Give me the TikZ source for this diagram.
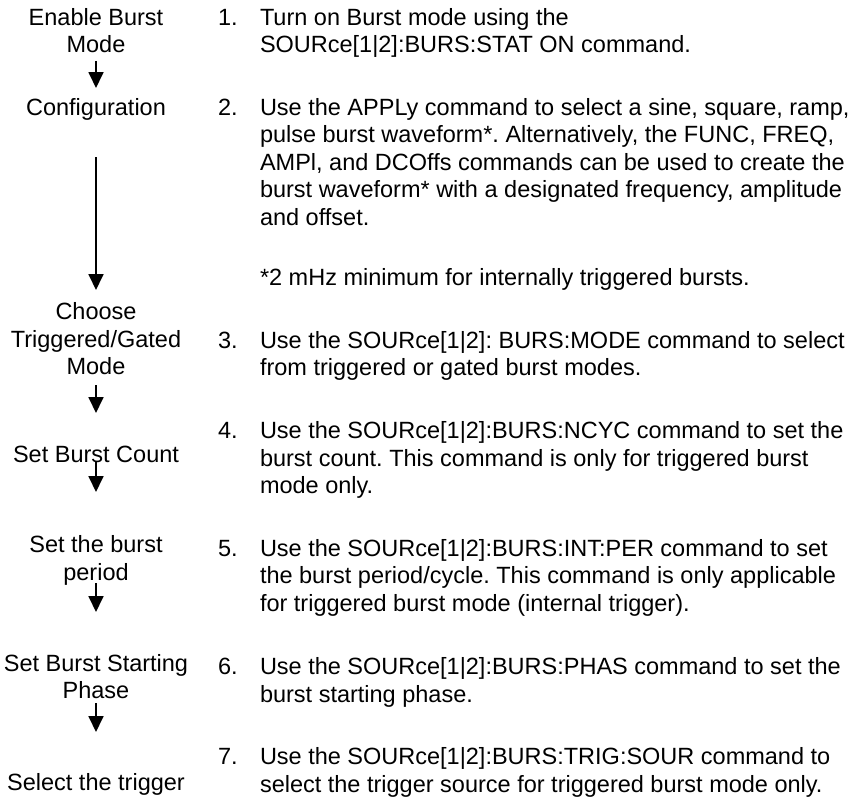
\documentclass[tikz,border=0pt]{standalone}
\usepackage{fontspec}
\setmainfont{Liberation Sans}
\usetikzlibrary{arrows.meta}
\frenchspacing
\newcommand{\stagetext}[1]{\begin{tabular}[t]{@{}c@{}}#1\end{tabular}}
\newcommand{\steptext}[1]{\begin{tabular}[t]{@{}l@{}}#1\end{tabular}}
\begin{document}
\begin{tikzpicture}[x=1pt,y=-1pt,
  every node/.style={inner sep=0pt, outer sep=0pt, font=\fontsize{23.5}{27.5}\selectfont\frenchspacing},
  stage/.style={anchor=base},
  num/.style={anchor=base west},
  body/.style={anchor=base west},
  flow/.style={line width=1.8pt, -{Triangle[length=16pt,width=15pt]}}]
\useasboundingbox (0,0) rectangle (867,798);

% left column: stages
\node[stage] (enable) at (96,25)    {\stagetext{Enable Burst\\Mode}};
\node[stage] (config) at (96,115)   {\stagetext{Configuration}};
\node[stage] (choose) at (96,319.5) {\stagetext{Choose\\Triggered/Gated\\Mode}};
\node[stage] (count)  at (96,462)   {\stagetext{Set Burst Count}};
\node[stage] (period) at (96,552.5) {\stagetext{Set the burst\\period}};
\node[stage] (phase)  at (96,671)   {\stagetext{Set Burst Starting\\Phase}};
\node[stage] (trig)   at (96,790)   {\stagetext{Select the trigger}};

% connectors
\draw[flow, shorten <=0pt,     shorten >=7.75pt]  (enable.south) -- (config.north);
\draw[flow, shorten <=33.75pt, shorten >=10.25pt] (config.south) -- (choose.north);
\draw[flow, shorten <=2.25pt,  shorten >=29.75pt] (choose.south) -- (count.north);
\draw[flow, shorten <=-8.25pt, shorten >=41.25pt] (count.south)  -- (period.north);
\draw[flow, shorten <=-5.25pt, shorten >=39.75pt] (period.south) -- (phase.north);
\draw[flow, shorten <=-3.75pt, shorten >=38.75pt] (phase.south)  -- (trig.north);

% right column: steps
\node[num] (n1) at (218,25) {1.};
\node[body] (s1) at (260,25) {\steptext{Turn on Burst mode using the\\SOURce[1|2]:BURS:STAT ON command.}};

\node[num] (n2) at (218,115) {2.};
\node[body] (s2) at (260,115) {\steptext{Use the APPLy command to select a sine, square, ramp,\\pulse burst waveform*. Alternatively, the FUNC, FREQ,\\AMPl, and DCOffs commands can be used to create the\\burst waveform* with a designated frequency, amplitude\\and offset.}};
\node[body] (fn) at (260,285) {*2 mHz minimum for internally triggered bursts.};

\node[num] (n3) at (218,348) {3.};
\node[body] (s3) at (260,348) {\steptext{Use the SOURce[1|2]: BURS:MODE command to select\\from triggered or gated burst modes.}};

\node[num] (n4) at (218,438.5) {4.};
\node[body] (s4) at (260,438.5) {\steptext{Use the SOURce[1|2]:BURS:NCYC command to set the\\burst count. This command is only for triggered burst\\mode only.}};

\node[num] (n5) at (218,556) {5.};
\node[body] (s5) at (260,556) {\steptext{Use the SOURce[1|2]:BURS:INT:PER command to set\\the burst period/cycle. This command is only applicable\\for triggered burst mode (internal trigger).}};

\node[num] (n6) at (218,674.5) {6.};
\node[body] (s6) at (260,674.5) {\steptext{Use the SOURce[1|2]:BURS:PHAS command to set the\\burst starting phase.}};

\node[num] (n7) at (218,764.5) {7.};
\node[body] (s7) at (260,764.5) {\steptext{Use the SOURce[1|2]:BURS:TRIG:SOUR command to\\select the trigger source for triggered burst mode only.}};
\end{tikzpicture}
\end{document}
